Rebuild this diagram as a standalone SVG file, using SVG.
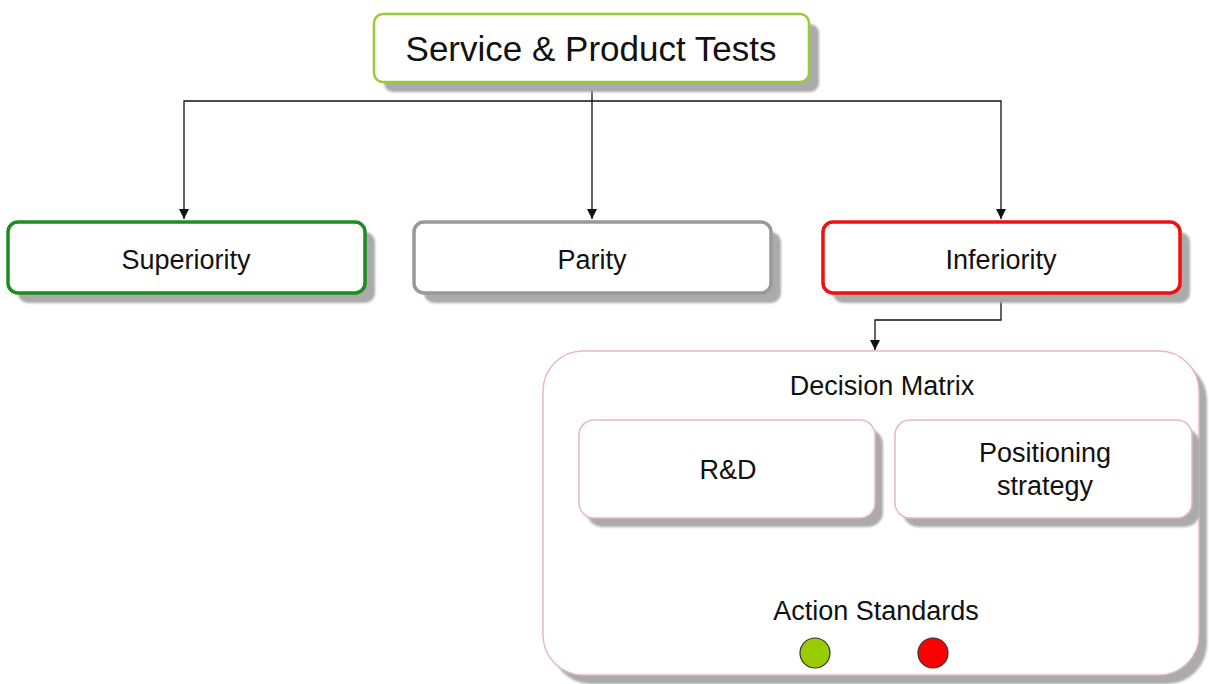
<svg xmlns="http://www.w3.org/2000/svg" width="1209" height="684" viewBox="0 0 1209 684">
  <style>
    text { font-family: "Liberation Sans", Arial, sans-serif; fill: #111; text-anchor: middle; }
    .lbl { font-size: 27px; }
    .title { font-size: 35px; }
    .shadow { fill: #ababab; }
    .box { fill: #fff; }
    .conn { fill: none; stroke: #111; stroke-width: 1.3; }
  </style>
  <defs>
    <marker id="arrow" viewBox="0 0 10 10" refX="10" refY="5" markerWidth="10" markerHeight="10" markerUnits="userSpaceOnUse" orient="auto">
      <path d="M0,0 L10,5 L0,10 z" fill="#111"/>
    </marker>
    <filter id="soft" x="-5%" y="-5%" width="110%" height="110%">
      <feGaussianBlur stdDeviation="0.8"/>
    </filter>
  </defs>

  <rect width="1209" height="684" fill="#fff"/>

  <!-- connectors -->
  <g id="connectors">
    <path class="conn" d="M592,82 V219" marker-end="url(#arrow)"/>
    <path class="conn" d="M592,101 H184 V219" marker-end="url(#arrow)"/>
    <path class="conn" d="M592,101 H1001 V219" marker-end="url(#arrow)"/>
    <path class="conn" d="M1001,294 V320 H875 V350" marker-end="url(#arrow)"/>
  </g>

  <g id="service-product-tests">
    <rect class="shadow" x="384" y="24" width="435" height="68" rx="9" filter="url(#soft)"/>
    <rect class="box" x="374" y="14" width="435" height="68" rx="9" stroke="#99cc33" stroke-width="2.5"/>
    <text class="title" x="591" y="61">Service &amp; Product Tests</text>
  </g>

  <g id="superiority">
    <rect class="shadow" x="18" y="232" width="357" height="71" rx="10" filter="url(#soft)"/>
    <rect class="box" x="8" y="222" width="357" height="71" rx="10" stroke="#1e8c1e" stroke-width="3.5"/>
    <text class="lbl" x="186" y="269">Superiority</text>
  </g>

  <g id="parity">
    <rect class="shadow" x="424" y="232" width="357" height="71" rx="10" filter="url(#soft)"/>
    <rect class="box" x="414" y="222" width="357" height="71" rx="10" stroke="#999999" stroke-width="3.5"/>
    <text class="lbl" x="592" y="269">Parity</text>
  </g>

  <g id="inferiority">
    <rect class="shadow" x="833" y="232" width="357" height="71" rx="10" filter="url(#soft)"/>
    <rect class="box" x="823" y="222" width="357" height="71" rx="10" stroke="#ee1111" stroke-width="3.5"/>
    <text class="lbl" x="1001" y="269">Inferiority</text>
  </g>

  <g id="decision-matrix">
    <rect class="shadow" x="551" y="360" width="656" height="324" rx="40" filter="url(#soft)"/>
    <rect class="box" x="543" y="351" width="656" height="324" rx="40" stroke="#e8b8c8" stroke-width="1.5"/>
    <text class="lbl" x="882" y="395">Decision Matrix</text>
  </g>

  <g id="rnd">
    <rect class="shadow" x="587" y="429" width="296" height="98" rx="15" filter="url(#soft)"/>
    <rect class="box" x="579" y="420" width="296" height="98" rx="15" stroke="#e8b8c8" stroke-width="1.5"/>
    <text class="lbl" x="728" y="479">R&amp;D</text>
  </g>

  <g id="positioning-strategy">
    <rect class="shadow" x="903" y="429" width="297" height="98" rx="15" filter="url(#soft)"/>
    <rect class="box" x="895" y="420" width="297" height="98" rx="15" stroke="#e8b8c8" stroke-width="1.5"/>
    <text class="lbl" x="1045" y="462">Positioning</text>
    <text class="lbl" x="1045" y="495">strategy</text>
  </g>

  <g id="action-standards">
    <text class="lbl" x="876" y="620">Action Standards</text>
    <ellipse cx="815" cy="653" rx="15" ry="15" fill="#99cc00" stroke="#333" stroke-width="1.2"/>
    <ellipse cx="933" cy="653" rx="15" ry="15" fill="#ff0000" stroke="#333" stroke-width="1.2"/>
  </g>
</svg>
